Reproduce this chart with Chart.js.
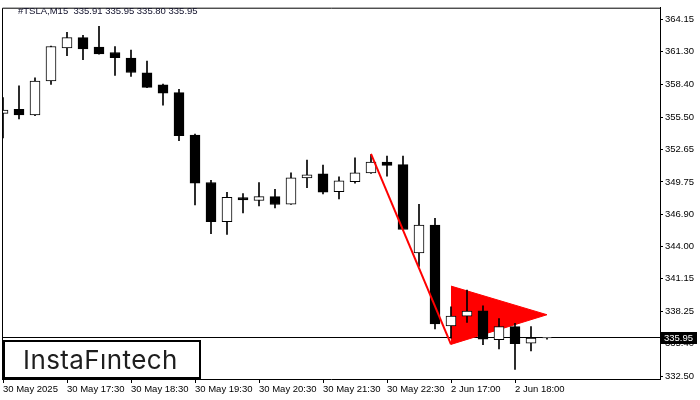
<!DOCTYPE html>
<html>
<head>
<meta charset="utf-8">
<script src="https://cdn.jsdelivr.net/npm/chart.js@4.4.1/dist/chart.umd.min.js"></script>
<style>
    body { margin: 0; background: #fff; }
    #wrap { width: 700px; height: 400px; }
</style>
</head>
<body>
<div id="wrap"><canvas id="myChart" width="700" height="400"></canvas></div>
<script>
// M15 candles, 30 May 16:30 .. 2 Jun 18:30
const opens  = [355.83, 356.18, 355.68, 358.70, 361.64, 362.55, 361.70, 361.23, 360.73, 359.42,
                358.37, 357.67, 353.91, 349.70, 346.22, 348.36, 348.10, 348.45, 347.78, 350.11,
                350.46, 348.89, 349.76, 350.55, 351.51, 351.28, 343.46, 345.91, 336.98, 337.85,
                338.32, 335.75, 336.92, 335.45, 335.91];
const highs  = [357.23, 358.28, 358.98, 361.80, 363.01, 362.75, 363.54, 361.76, 361.44, 360.47,
                358.43, 357.96, 353.99, 349.88, 348.83, 348.71, 349.70, 349.09, 350.55, 351.69,
                351.25, 350.20, 351.89, 352.18, 352.04, 352.04, 347.77, 346.52, 338.67, 340.16,
                338.76, 337.62, 337.21, 336.92, 335.95];
const lows   = [353.64, 355.33, 355.62, 358.40, 360.94, 360.59, 361.08, 359.19, 359.10, 358.10,
                356.56, 353.41, 347.71, 345.17, 345.09, 347.01, 347.63, 347.45, 347.75, 349.24,
                348.68, 348.24, 349.64, 350.50, 350.25, 345.50, 342.26, 336.72, 335.90, 337.29,
                335.31, 334.93, 333.13, 334.76, 335.80];
const closes = [356.12, 355.68, 358.70, 361.76, 362.55, 361.55, 361.11, 360.76, 359.45, 358.13,
                357.61, 353.84, 349.64, 346.22, 348.39, 348.15, 348.45, 347.75, 350.11, 350.38,
                348.85, 349.85, 350.55, 351.51, 351.22, 345.53, 345.91, 337.15, 337.85, 338.29,
                335.81, 336.92, 335.40, 335.91, 335.95];

const xTickIndex  = [0, 4, 8, 12, 16, 20, 24, 28, 32];
const xTickLabels = ['30 May 2025', '30 May 17:30', '30 May 18:30', '30 May 19:30', '30 May 20:30',
                     '30 May 21:30', '30 May 22:30', '2 Jun 17:00', '2 Jun 18:00'];
const yTickValues = [364.15, 361.30, 358.40, 355.50, 352.65, 349.75, 346.90, 344.00, 341.15, 338.25, 335.40, 332.50];

// bearish pennant: pole + triangle
const poleX = [23, 28];
const poleY = [352.24, 335.34];
const pennantX = [28, 34];
const pennantTop = [340.51, 337.97];
const pennantBottom = [335.34, 337.97];

const symbol = '#TSLA,M15';
const quote = [335.91, 335.95, 335.80, 335.95];
const lastPrice = 335.95;

const axisFont = { family: 'Liberation Sans', size: 9.5 };

const idx = opens.map((v, i) => i);

const overlay = {
    id: 'overlay',
    afterDraw(chart) {
        const ctx = chart.ctx;
        const a = chart.chartArea;
        const y = chart.scales.y;
        ctx.save();
        // frame
        ctx.strokeStyle = '#000';
        ctx.lineWidth = 1;
        ctx.beginPath();
        ctx.moveTo(a.left + 0.5, a.bottom);
        ctx.lineTo(a.left + 0.5, a.top + 0.5);
        ctx.lineTo(a.right, a.top + 0.5);
        ctx.stroke();
        // header
        ctx.fillStyle = '#10102a';
        ctx.font = '9.5px "Liberation Sans"';
        ctx.textBaseline = 'middle';
        ctx.fillText(symbol + '  ' + quote.map(q => q.toFixed(2)).join(' '), 18, 11.5);
        // last price label
        const py = Math.round(y.getPixelForValue(lastPrice));
        ctx.fillStyle = '#000';
        ctx.fillRect(a.right + 1, py - 6, 36, 12);
        ctx.fillStyle = '#fff';
        ctx.fillText(lastPrice.toFixed(2), a.right + 4, py);
        // logo
        ctx.fillStyle = '#fff';
        ctx.fillRect(4, 341, 196, 37);
        ctx.strokeStyle = '#000';
        ctx.lineWidth = 2;
        ctx.strokeRect(4, 341, 196, 37);
        ctx.fillStyle = '#1e1e1e';
        ctx.font = '400 26px Inter';
        ctx.letterSpacing = '0.4px';
        ctx.textBaseline = 'alphabetic';
        ctx.fillText('InstaF\u0131ntech', 23, 369);
        ctx.restore();
    }
};

const ctx = document.getElementById('myChart').getContext('2d');
const myChart = new Chart(ctx, {
    type: 'bar',
    data: {
        datasets: [
            {
                type: 'line',
                data: poleX.map((x, i) => ({ x: x, y: poleY[i] })),
                borderColor: 'rgb(255, 0, 0)',
                borderWidth: 2,
                pointRadius: 0,
                order: 0
            },
            {
                data: idx.map(i => ({ x: i, y: [opens[i], closes[i]] })),
                backgroundColor: idx.map(i => closes[i] >= opens[i] ? '#fff' : '#000'),
                borderColor: '#000',
                borderWidth: 1,
                borderSkipped: false,
                barThickness: 10,
                grouped: false,
                order: 1
            },
            {
                data: idx.map(i => ({ x: i, y: [lows[i], highs[i]] })),
                backgroundColor: '#000',
                borderWidth: 0,
                barThickness: 1,
                grouped: false,
                order: 2
            },
            {
                type: 'line',
                data: pennantX.map((x, i) => ({ x: x, y: pennantTop[i] })),
                borderColor: 'rgb(255, 0, 0)',
                borderWidth: 1,
                pointRadius: 0,
                order: 3
            },
            {
                type: 'line',
                data: pennantX.map((x, i) => ({ x: x, y: pennantBottom[i] })),
                borderColor: 'rgb(255, 0, 0)',
                backgroundColor: 'rgb(255, 0, 0)',
                borderWidth: 1,
                pointRadius: 0,
                fill: 3,
                order: 3
            },
            {
                type: 'line',
                data: [{ x: -1, y: lastPrice }, { x: 45, y: lastPrice }],
                borderColor: '#000',
                borderWidth: 1,
                pointRadius: 0,
                order: 4
            }
        ]
    },
    options: {
        responsive: false,
        devicePixelRatio: 1,
        animation: false,
        layout: { padding: { left: 2, top: 3, right: 0, bottom: 0 } },
        plugins: {
            legend: { display: false },
            tooltip: { enabled: false }
        },
        scales: {
            x: {
                type: 'linear',
                min: -0.0625,
                max: 41.0625,
                offset: false,
                grid: { drawOnChartArea: false, tickLength: 4, color: '#000', offset: false },
                border: { display: true, color: '#000' },
                ticks: {
                    autoSkip: false,
                    maxRotation: 0,
                    align: 'start',
                    padding: 1,
                    color: '#000',
                    font: axisFont,
                    callback: function(value) {
                        const k = xTickIndex.indexOf(value);
                        return k >= 0 ? xTickLabels[k] : '';
                    }
                },
                afterBuildTicks: function(scale) {
                    scale.ticks = xTickIndex.map(v => ({ value: v }));
                },
                afterFit: function(scale) { scale.height = 21; }
            },
            y: {
                position: 'right',
                min: 332.27,
                max: 365.20,
                grid: { drawOnChartArea: false, tickLength: 3, color: '#000' },
                border: { display: true, color: '#000' },
                ticks: {
                    padding: 2,
                    color: '#000',
                    font: axisFont,
                    callback: function(value) { return value.toFixed(2); }
                },
                afterBuildTicks: function(scale) {
                    scale.ticks = yTickValues.map(v => ({ value: v }));
                },
                afterFit: function(scale) { scale.width = 40; }
            }
        }
    },
    plugins: [overlay]
});
</script>
</body>
</html>
